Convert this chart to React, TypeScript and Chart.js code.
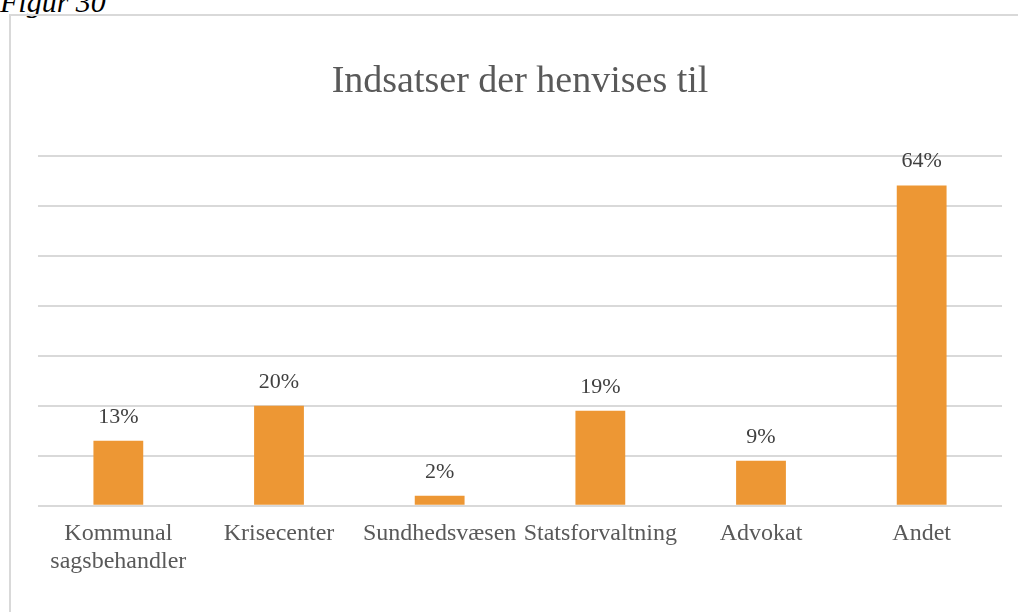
import React, { useEffect, useRef } from "react";
import { Chart, registerables } from "chart.js";

Chart.register(...registerables);

const categories: (string | string[])[] = [
  ["Kommunal", "sagsbehandler"],
  "Krisecenter",
  "Sundhedsvæsen",
  "Statsforvaltning",
  "Advokat",
  "Andet",
];
const values: number[] = [13, 20, 2, 19, 9, 64];
const valueLabels: string[] = ["13%", "20%", "2%", "19%", "9%", "64%"];
const titleText = "Indsatser der henvises til";
const figureCaption = "Figur 30";

const FONT = "'Liberation Serif', 'DejaVu Serif', serif";

const dataLabelPlugin = {
  id: "dataLabels",
  afterDatasetsDraw(chart: any) {
    const ctx = chart.ctx;
    const meta = chart.getDatasetMeta(0);
    ctx.save();
    ctx.font = `22px ${FONT}`;
    ctx.fillStyle = "#404040";
    ctx.textAlign = "center";
    ctx.textBaseline = "middle";
    meta.data.forEach((bar: any, i: number) => {
      ctx.fillText(valueLabels[i], bar.x, bar.y - 24);
    });
    ctx.restore();
  },
};

export default function App() {
  const ref = useRef<HTMLCanvasElement | null>(null);
  useEffect(() => {
    if (!ref.current) return;
    const chart = new Chart(ref.current, {
      type: "bar",
      data: {
        labels: categories,
        datasets: [
          {
            data: values,
            backgroundColor: "#ED9734",
            barPercentage: 0.62,
            categoryPercentage: 0.5,
          },
        ],
      },
      options: {
        animation: false,
        responsive: false,
        maintainAspectRatio: false,
        layout: { padding: { left: 28, right: 48, top: 0, bottom: 34 } },
        plugins: {
          legend: { display: false },
          tooltip: { enabled: false },
          title: {
            display: true,
            text: titleText,
            color: "#595959",
            font: { family: FONT, size: 38, weight: "normal" },
            padding: { top: 45, bottom: 51 },
          },
        },
        scales: {
          x: {
            grid: { display: false, drawTicks: false },
            border: { display: false },
            ticks: {
              color: "#595959",
              font: { family: FONT, size: 24, lineHeight: 1.17 },
              autoSkip: false,
              maxRotation: 0,
              minRotation: 0,
              padding: 14,
            },
          },
          y: {
            min: 0,
            max: 70,
            ticks: { display: false, stepSize: 10 },
            grid: { color: "#d9d9d9", lineWidth: 2, drawTicks: false },
            border: { display: false },
          },
        },
      },
      plugins: [dataLabelPlugin],
    });
    return () => chart.destroy();
  }, []);

  return (
    <div style={{ position: "fixed", inset: 0, overflow: "hidden", background: "#fff" }}>
      <div
        style={{
          position: "absolute",
          left: 0,
          top: -13,
          fontFamily: FONT,
          fontStyle: "italic",
          fontSize: 30,
          lineHeight: "30px",
          color: "#000",
          whiteSpace: "nowrap",
        }}
      >
        {figureCaption}
      </div>
      <div
        style={{
          position: "absolute",
          left: 9,
          top: 14,
          width: 1040,
          height: 610,
          border: "2px solid #d9d9d9",
          boxSizing: "border-box",
        }}
      />
      <canvas
        ref={ref}
        width={1040}
        height={610}
        style={{ position: "absolute", left: 10, top: 14, width: 1040, height: 610 }}
      />
    </div>
  );
}
